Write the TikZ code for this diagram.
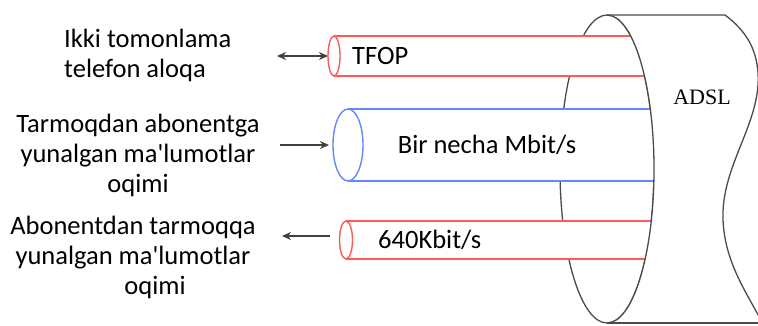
\documentclass[tikz,border=0pt]{standalone}
\usepackage{fontspec}
\setmainfont{Carlito}
\newfontfamily\adslfont{Liberation Serif}
\usetikzlibrary{shapes.geometric,arrows.meta}
\definecolor{pipered}{RGB}{255,90,90}
\definecolor{pipeblue}{RGB}{100,135,250}
\definecolor{cablegray}{RGB}{75,75,75}
\tikzstyle{sidetext} = [inner sep=0pt, font=\fontsize{26.5}{30}\selectfont]
\tikzstyle{pipetext} = [inner sep=0pt, font=\fontsize{26.5}{30}\selectfont]
\tikzstyle{redend} = [ellipse, draw=pipered, fill=white, line width=1.4pt, inner sep=0pt, outer sep=0pt, minimum width=12pt, minimum height=40pt]
\tikzstyle{blueend} = [ellipse, draw=pipeblue, fill=white, line width=1.4pt, inner sep=0pt, outer sep=0pt, minimum width=30pt, minimum height=72pt]
\tikzstyle{redline} = [draw=pipered, line width=1.6pt]
\tikzstyle{blueline} = [draw=pipeblue, line width=1.6pt]
\tikzstyle{cable} = [draw=cablegray, line width=1.3pt]
\tikzstyle{arrow} = [line width=1.5pt,->,>={Stealth[length=9pt,width=8pt]}, draw=black!75]
\tikzstyle{darrow} = [line width=1.5pt,<->,>={Stealth[length=9pt,width=8pt]}, draw=black!75]

\begin{document}
\begin{tikzpicture}[x=1pt, y=-1pt]
\useasboundingbox (0,0) rectangle (758,325);

% big ADSL cable
\draw [cable, fill=white] (607,169) ellipse (47pt and 154pt);

% TFOP pipe
\fill [white] (334,36) rectangle (660,76);
\draw [redline] (334,36) -- (660,36);
\draw [redline] (334,76) -- (660,76);
\node (tfop) [redend] at (334,56) {};
\node (tfoptxt) [pipetext, anchor=west] at (352,56) {TFOP};

% down stream pipe
\fill [white] (348,109) rectangle (660,181);
\draw [blueline] (348,109) -- (660,109);
\draw [blueline] (348,181) -- (660,181);
\node (down) [blueend] at (348,145) {};
\node (downtxt) [pipetext] at (487,145) {Bir necha Mbit/s};

% up stream pipe
\fill [white] (346,221) rectangle (660,259);
\draw [redline] (346,221) -- (660,221);
\draw [redline] (346,259) -- (660,259);
\node (up) [redend, minimum width=13pt, minimum height=38pt] at (346,240) {};
\node (uptxt) [pipetext, anchor=west] at (378,240) {640Kbit/s};

% hide pipe ends behind the big cable
\fill [white] (607,15) arc [start angle=90, end angle=-90, x radius=47pt, y radius=154pt]
  -- (700,323) -- (700,15) -- cycle;
\draw [cable] (607,15) arc [start angle=90, end angle=-90, x radius=47pt, y radius=154pt];
\draw [cable] (607,15) -- (725,15) .. controls (745,30) and (760,50) .. (758,85)
  .. controls (755,130) and (721,170) .. (723,220)
  .. controls (725,262) and (745,290) .. (762,322);
\draw [cable] (607,323) -- (762,323);
\node (adsl) [inner sep=0pt, font=\adslfont\fontsize{22}{26}\selectfont] at (702,97) {ADSL};

% side labels
\node (phone) [sidetext, align=left, anchor=west] at (64,55) {Ikki tomonlama\\telefon aloqa};
\node (downlbl) [sidetext, align=center] at (138,155) {Tarmoqdan abonentga\\yunalgan ma\textquotesingle lumotlar\\oqimi};
\node (uplbl) [sidetext, align=center] at (133,257) {Abonentdan tarmoqqa\\yunalgan ma\textquotesingle lumotlar\\\hspace*{44pt}oqimi};

\coordinate (p1) at (277,56);
\coordinate (p2) at (280,145);
\coordinate (p3) at (282,236);

\draw [darrow] (p1) -- (tfop.west);
\draw [arrow] (p2) -- ([xshift=-4pt]down.west);
\draw [arrow] ([xshift=-10pt,yshift=4pt]up.west) -- (p3);
\end{tikzpicture}
\end{document}
